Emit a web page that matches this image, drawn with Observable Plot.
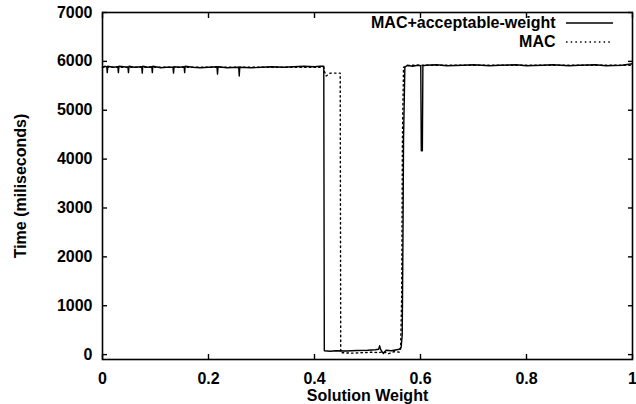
<!DOCTYPE html>
<html>
<head>
<meta charset="utf-8">
<script src="https://cdn.jsdelivr.net/npm/d3@7"></script>
<script src="https://cdn.jsdelivr.net/npm/@observablehq/plot@0.6"></script>
<style>
  html, body { margin: 0; padding: 0; background: #fff; }
  #chart svg { display: block; }
</style>
</head>
<body>
<div id="chart"></div>
<script>
// ---- data ----
const seriesNames = ["MAC+acceptable-weight", "MAC"];
const xTicks = [0, 0.2, 0.4, 0.6, 0.8, 1];
const xTickLabels = ["0", "0.2", "0.4", "0.6", "0.8", "1"];
const yTicks = [0, 1000, 2000, 3000, 4000, 5000, 6000, 7000];

// MAC+acceptable-weight (solid)
const solidX = [0, 0.004, 0.008, 0.009, 0.010, 0.02, 0.029, 0.030, 0.031, 0.04, 0.048, 0.049, 0.050, 0.06,
  0.074, 0.075, 0.076, 0.085, 0.093, 0.094, 0.095, 0.11, 0.12, 0.133, 0.134, 0.135, 0.145, 0.154, 0.155, 0.156,
  0.17, 0.185, 0.2, 0.216, 0.217, 0.218, 0.235, 0.257, 0.258, 0.259, 0.28, 0.30, 0.32, 0.34, 0.36, 0.38, 0.40,
  0.41, 0.4175, 0.4185, 0.43, 0.44, 0.46, 0.48, 0.50, 0.515, 0.521, 0.523, 0.525, 0.53, 0.535, 0.545, 0.555,
  0.56, 0.5635, 0.5655, 0.5668, 0.568, 0.5705, 0.575, 0.585, 0.595, 0.6005, 0.6015, 0.6035, 0.6045, 0.61,
  0.63, 0.65, 0.68, 0.70, 0.73, 0.75, 0.78, 0.80, 0.83, 0.85, 0.88, 0.90, 0.93, 0.95, 0.98, 1.0];
const solidY = [5880, 5900, 5890, 5770, 5900, 5880, 5890, 5770, 5900, 5890, 5880, 5770, 5900, 5880,
  5890, 5760, 5900, 5880, 5890, 5770, 5900, 5870, 5880, 5880, 5760, 5890, 5880, 5890, 5770, 5900,
  5880, 5870, 5880, 5890, 5740, 5890, 5870, 5880, 5700, 5880, 5870, 5880, 5890, 5880, 5890, 5900, 5890,
  5900, 5900, 80, 70, 80, 75, 85, 90, 100, 110, 180, 100, 20, 90, 80, 100,
  110, 150, 400, 2200, 4400, 5880, 5920, 5900, 5920, 5910, 4170, 4170, 5910, 5920,
  5930, 5910, 5920, 5930, 5910, 5920, 5930, 5910, 5920, 5930, 5910, 5920, 5930, 5910, 5920, 5950];

// MAC (dotted)
const dottedX = [0, 0.1, 0.2, 0.3, 0.4175, 0.419, 0.422, 0.43, 0.44, 0.4485, 0.4495, 0.47, 0.49, 0.51,
  0.52, 0.53, 0.54, 0.55, 0.56, 0.5625, 0.5645, 0.566, 0.568, 0.58, 0.65, 0.75, 0.85, 0.95, 1.0];
const dottedY = [5880, 5880, 5880, 5880, 5880, 5790, 5700, 5760, 5760, 5760, 40, 30, 40, 50,
  40, 60, 20, 60, 50, 120, 1200, 4500, 5880, 5920, 5920, 5920, 5920, 5920, 5920];

const solidData = solidX.map((x, i) => ({x, y: solidY[i]}));
const dottedData = dottedX.map((x, i) => ({x, y: dottedY[i]}));

const FONT = "'Liberation Sans', Arial, Helvetica, sans-serif";

// legend sample lines drawn relative to the frame (custom render mark)
function legendSamples(index, scales, values, dims) {
  const ns = "http://www.w3.org/2000/svg";
  const g = document.createElementNS(ns, "g");
  const right = dims.width - dims.marginRight;
  const rows = [
    {dy: 11, dash: null},
    {dy: 30, dash: "1.5,3.2"}
  ];
  for (const r of rows) {
    const l = document.createElementNS(ns, "line");
    l.setAttribute("x1", right - 66);
    l.setAttribute("x2", right - 19);
    l.setAttribute("y1", dims.marginTop + r.dy);
    l.setAttribute("y2", dims.marginTop + r.dy);
    l.setAttribute("stroke", "#000");
    l.setAttribute("stroke-width", 1.3);
    if (r.dash) l.setAttribute("stroke-dasharray", r.dash);
    g.appendChild(l);
  }
  return g;
}

const chart = Plot.plot({
  width: 636,
  height: 404,
  marginLeft: 102,
  marginRight: 4,
  marginTop: 12,
  marginBottom: 45,
  style: {fontFamily: FONT, fontSize: "16px", fontWeight: "bold", color: "#000", background: "#fff"},
  x: {domain: [0, 1]},
  y: {domain: [-100, 7000]},
  marks: [
    Plot.frame({stroke: "#000", strokeWidth: 1.6}),
    Plot.axisX(xTicks, {anchor: "bottom", tickSize: -5, tickPadding: 18, tickFormat: (d, i) => xTickLabels[i], label: null, strokeWidth: 1.4}),
    Plot.axisX(xTicks, {anchor: "top", tickSize: -5, tickFormat: () => "", label: null, strokeWidth: 1.4}),
    Plot.axisY(yTicks, {anchor: "left", tickSize: -5, tickPadding: 15, tickFormat: d => String(d), label: null, strokeWidth: 1.4}),
    Plot.axisY(yTicks, {anchor: "right", tickSize: -5, tickFormat: () => "", label: null, strokeWidth: 1.4}),
    Plot.text(["Solution Weight"], {frameAnchor: "bottom", dy: 36, lineAnchor: "middle", fontSize: 16, fontWeight: "bold"}),
    Plot.text(["Time (miliseconds)"], {frameAnchor: "left", dx: -82, rotate: -90, textAnchor: "middle", lineAnchor: "middle", fontSize: 16, fontWeight: "bold"}),
    Plot.line(dottedData, {x: "x", y: "y", stroke: "#000", strokeWidth: 1.4, strokeDasharray: "1.5,3.2", curve: "linear"}),
    Plot.line(solidData, {x: "x", y: "y", stroke: "#000", strokeWidth: 1.4, curve: "linear"}),
    Plot.text([seriesNames[0]], {frameAnchor: "top-right", dx: -77, dy: 10, textAnchor: "end", lineAnchor: "middle", fontSize: 16, fontWeight: "bold"}),
    Plot.text([seriesNames[1]], {frameAnchor: "top-right", dx: -77, dy: 29, textAnchor: "end", lineAnchor: "middle", fontSize: 16, fontWeight: "bold"}),
    legendSamples
  ]
});
document.getElementById("chart").appendChild(chart);
</script>
</body>
</html>
